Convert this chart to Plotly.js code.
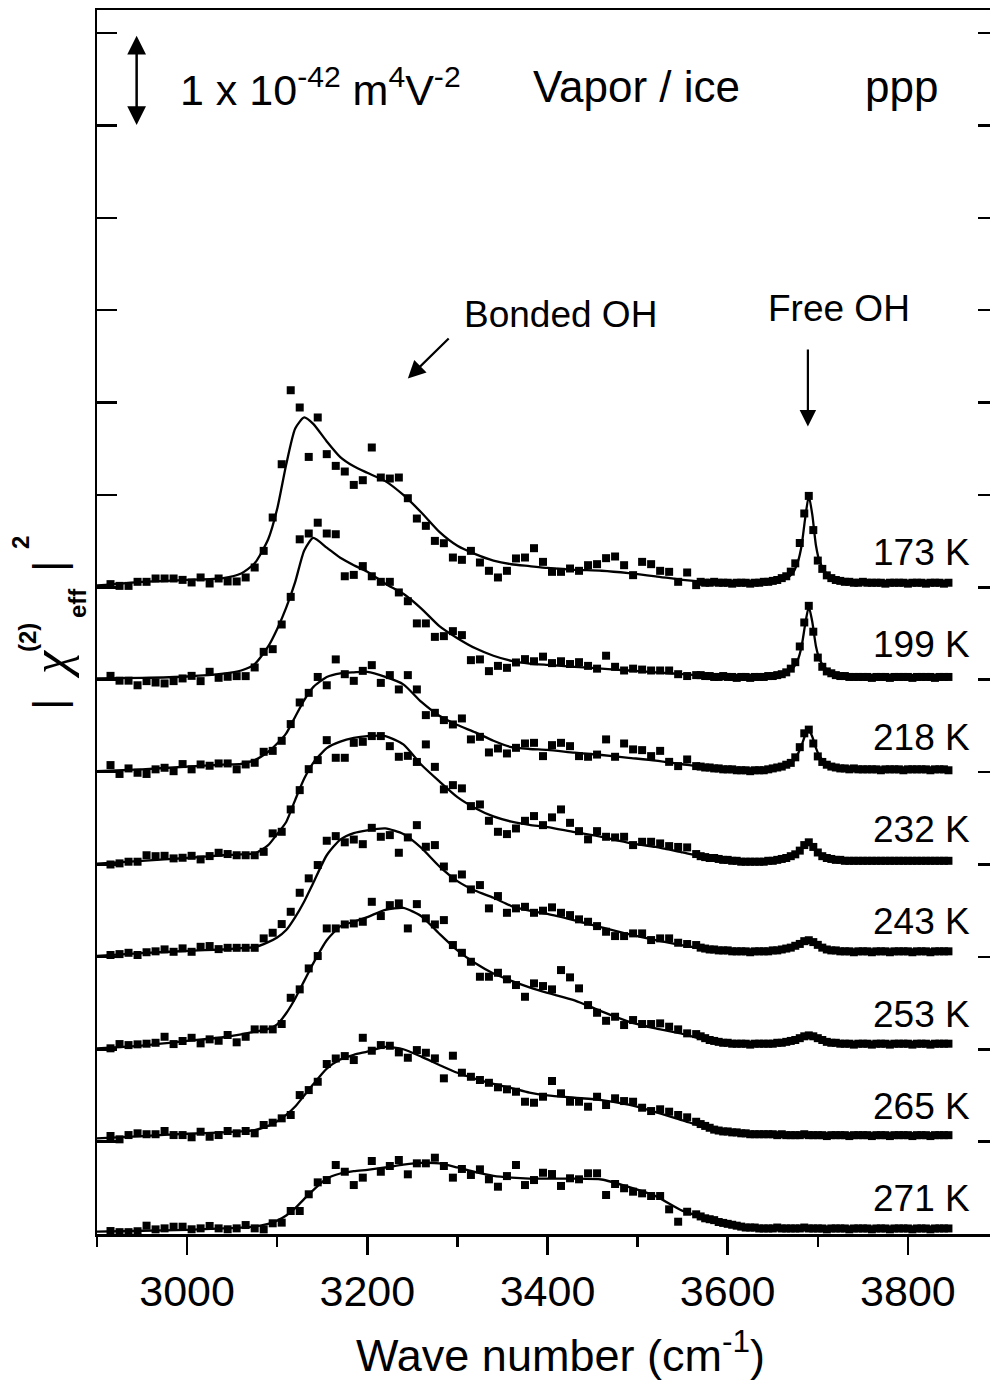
<!DOCTYPE html>
<html>
<head>
<meta charset="utf-8">
<script src="https://cdn.plot.ly/plotly-3.0.1.min.js"></script>
<style>
html,body{margin:0;padding:0;background:#fff;overflow:hidden;}
#chart{width:1000px;height:1381px;}
</style>
</head>
<body>
<div id="chart"></div>
<script>
// ---------------- DATA ----------------
const temps = ['173 K','199 K','218 K','232 K','243 K','253 K','265 K','271 K'];
const offsets = [7,6,5,4,3,2,1,0];

const wnSparse = [2915,2925,2935,2945,2955,2965,2975,2985,2995,3005,3015,3025,3035,3045,3055,3065,3075,3085,3095,3105,
3115,3125,3135,3145,3155,3165,3175,3185,3195,3205,3215,3225,3235,3245,3255,3265,3275,3285,3295,3305,
3315,3325,3335,3345,3355,3365,3375,3385,3395,3405,3415,3425,3435,3445,3455,3465,3475,3485,3495,3505,
3515,3525,3535,3545,3555,3565];

const wnDense = [3570,3575,3580,3585,3590,3595,3600,3605,3610,3615,3620,3625,3630,3635,3640,3645,3650,3655,3660,3665,
3670,3675,3680,3685,3690,3695,3700,3705,3710,3715,3720,3725,3730,3735,3740,3745,3750,3755,3760,3765,
3770,3775,3780,3785,3790,3795,3800,3805,3810,3815,3820,3825,3830,3835,3840,3845];

// measured |chi|^2 (units of 1e-42 m^4 V^-2), above each curve's own baseline
const s173 = [0.035,0.016,0.016,0.06,0.06,0.096,0.096,0.096,0.081,0.053,0.107,0.042,0.096,0.064,0.064,0.107,0.215,0.395,0.756,1.333,
2.134,1.947,1.412,1.839,1.442,1.315,1.254,1.109,1.160,1.514,1.189,1.178,1.189,0.965,0.745,0.666,0.503,0.478,0.323,0.298,
0.395,0.269,0.179,0.107,0.179,0.313,0.323,0.424,0.276,0.168,0.168,0.204,0.179,0.240,0.251,0.316,0.334,0.240,0.132,0.276,
0.251,0.179,0.168,0.060,0.161,0.024];
const d173 = [0.06,0.05,0.05,0.06,0.05,0.05,0.05,0.04,0.05,0.05,0.05,0.04,0.05,0.05,0.06,0.06,0.07,0.08,0.10,0.12,
0.17,0.26,0.48,0.80,0.99,0.62,0.29,0.20,0.13,0.10,0.08,0.07,0.06,0.06,0.05,0.05,0.06,0.05,0.05,0.05,
0.05,0.04,0.05,0.05,0.05,0.05,0.04,0.05,0.05,0.05,0.04,0.05,0.05,0.05,0.04,0.05];

const s199 = [0.042,-0.01,-0.01,-0.06,-0.015,-0.03,-0.04,-0.015,0.014,0.042,-0.015,0.086,0.021,0.032,0.039,0.039,0.133,0.302,0.331,0.598,
0.897,1.52,1.583,1.70,1.583,1.575,1.12,1.135,1.23,1.12,1.06,1.06,0.945,0.85,0.61,0.61,0.464,0.472,0.526,0.483,
0.212,0.22,0.093,0.15,0.129,0.187,0.223,0.20,0.25,0.18,0.20,0.17,0.19,0.15,0.12,0.26,0.14,0.10,0.12,0.11,
0.10,0.10,0.10,0.06,0.04,0.05];
const d199 = [0.05,0.04,0.04,0.03,0.03,0.04,0.03,0.03,0.02,0.03,0.03,0.02,0.03,0.03,0.03,0.04,0.04,0.05,0.06,0.08,
0.12,0.19,0.36,0.62,0.80,0.52,0.24,0.14,0.09,0.07,0.05,0.04,0.04,0.03,0.03,0.03,0.03,0.03,0.02,0.03,
0.03,0.03,0.02,0.03,0.03,0.03,0.03,0.02,0.03,0.03,0.03,0.03,0.02,0.03,0.03,0.03];

const s218 = [0.076,-0.02,0.04,-0.007,-0.02,0.03,0.047,0.01,0.087,0.03,0.083,0.069,0.094,0.094,0.03,0.083,0.101,0.22,0.23,0.339,
0.52,0.754,0.858,1.03,0.94,1.22,1.06,0.988,1.096,1.158,0.966,1.05,0.895,1.05,0.895,0.617,0.642,0.563,0.516,0.581,
0.354,0.382,0.213,0.256,0.202,0.263,0.31,0.317,0.173,0.292,0.317,0.281,0.173,0.166,0.19,0.354,0.166,0.31,0.246,0.238,
0.173,0.23,0.111,0.065,0.137,0.065];
const d218 = [0.06,0.05,0.05,0.04,0.04,0.03,0.03,0.03,0.02,0.02,0.02,0.01,0.02,0.02,0.02,0.03,0.04,0.05,0.06,0.08,
0.10,0.16,0.27,0.42,0.46,0.31,0.17,0.11,0.08,0.06,0.05,0.04,0.04,0.03,0.04,0.03,0.03,0.03,0.03,0.03,
0.02,0.03,0.03,0.03,0.03,0.02,0.03,0.03,0.03,0.03,0.03,0.02,0.03,0.03,0.03,0.02];

const s232 = [0.0,0.012,0.03,0.03,0.10,0.09,0.094,0.066,0.073,0.094,0.055,0.091,0.127,0.113,0.10,0.10,0.10,0.137,0.337,0.354,
0.596,0.805,1.032,1.13,1.346,1.155,1.155,1.317,1.328,1.39,1.39,1.281,1.166,1.176,1.11,1.30,1.057,0.813,0.859,0.824,
0.632,0.65,0.473,0.354,0.329,0.39,0.473,0.524,0.426,0.51,0.596,0.451,0.361,0.272,0.361,0.30,0.293,0.30,0.21,0.246,
0.246,0.228,0.199,0.19,0.185,0.113];
const d232 = [0.09,0.08,0.07,0.07,0.06,0.05,0.05,0.04,0.04,0.03,0.03,0.03,0.03,0.03,0.03,0.04,0.04,0.05,0.06,0.07,
0.09,0.11,0.15,0.21,0.24,0.19,0.13,0.09,0.07,0.06,0.05,0.05,0.04,0.04,0.04,0.04,0.04,0.04,0.04,0.04,
0.04,0.04,0.04,0.04,0.04,0.04,0.04,0.04,0.04,0.04,0.04,0.04,0.04,0.04,0.04,0.04];

const s243 = [0.02,0.03,0.044,0.02,0.05,0.06,0.081,0.055,0.092,0.055,0.109,0.117,0.084,0.098,0.098,0.098,0.098,0.20,0.261,0.355,
0.488,0.694,0.85,0.994,1.257,1.307,1.24,1.27,1.22,1.397,1.30,1.318,1.127,1.293,1.426,1.192,1.21,0.978,0.85,0.892,
0.73,0.777,0.525,0.658,0.477,0.525,0.542,0.477,0.50,0.536,0.477,0.452,0.406,0.38,0.333,0.272,0.225,0.225,0.254,0.254,
0.182,0.20,0.20,0.153,0.139,0.128];
const d243 = [0.10,0.09,0.08,0.08,0.07,0.07,0.07,0.06,0.06,0.06,0.06,0.05,0.06,0.06,0.06,0.06,0.07,0.07,0.08,0.09,
0.10,0.12,0.14,0.17,0.18,0.16,0.13,0.10,0.08,0.07,0.07,0.06,0.06,0.06,0.05,0.06,0.06,0.06,0.05,0.06,
0.06,0.06,0.05,0.06,0.06,0.06,0.06,0.05,0.06,0.06,0.06,0.05,0.06,0.06,0.06,0.06];

const s253 = [0.01,0.056,0.045,0.053,0.06,0.07,0.135,0.056,0.089,0.124,0.064,0.107,0.092,0.154,0.075,0.135,0.215,0.215,0.215,0.273,
0.557,0.648,0.875,1.009,1.308,1.308,1.351,1.362,1.38,1.596,1.442,1.56,1.579,1.308,1.571,1.417,1.351,1.398,1.128,1.044,
0.947,0.785,0.785,0.828,0.757,0.695,0.568,0.713,0.684,0.648,0.857,0.778,0.659,0.478,0.395,0.308,0.352,0.262,0.316,0.273,
0.273,0.28,0.244,0.215,0.172,0.164];
const d253 = [0.14,0.12,0.10,0.09,0.08,0.07,0.07,0.06,0.06,0.06,0.06,0.05,0.06,0.06,0.06,0.06,0.06,0.07,0.07,0.08,
0.09,0.10,0.12,0.14,0.15,0.14,0.12,0.10,0.08,0.07,0.07,0.06,0.06,0.06,0.05,0.06,0.06,0.06,0.05,0.06,
0.06,0.06,0.05,0.06,0.06,0.06,0.06,0.05,0.06,0.06,0.06,0.05,0.06,0.06,0.06,0.06];

const s265 = [0.061,0.025,0.071,0.09,0.08,0.08,0.115,0.071,0.071,0.047,0.107,0.053,0.071,0.115,0.09,0.115,0.09,0.18,0.205,0.252,
0.288,0.504,0.558,0.648,0.84,0.9,0.926,0.883,1.124,0.984,1.045,1.038,0.966,0.908,0.991,0.962,0.901,0.685,0.93,0.746,
0.702,0.667,0.637,0.588,0.566,0.54,0.432,0.421,0.486,0.656,0.523,0.432,0.432,0.378,0.486,0.396,0.469,0.439,0.432,0.367,
0.331,0.35,0.324,0.288,0.263,0.215];
const d265 = [0.19,0.17,0.15,0.13,0.12,0.11,0.11,0.10,0.10,0.09,0.09,0.08,0.08,0.08,0.08,0.08,0.08,0.07,0.08,0.07,
0.07,0.07,0.07,0.08,0.07,0.07,0.07,0.07,0.06,0.07,0.07,0.07,0.07,0.06,0.07,0.07,0.07,0.07,0.06,0.07,
0.07,0.07,0.06,0.07,0.07,0.07,0.07,0.06,0.07,0.07,0.07,0.06,0.07,0.07,0.07,0.07];

const s271 = [0.032,0.02,0.02,0.03,0.09,0.05,0.061,0.079,0.079,0.051,0.061,0.087,0.061,0.051,0.061,0.097,0.061,0.05,0.116,0.123,
0.249,0.249,0.43,0.559,0.584,0.747,0.674,0.53,0.61,0.79,0.674,0.736,0.801,0.646,0.765,0.765,0.826,0.736,0.61,0.704,
0.639,0.70,0.592,0.512,0.627,0.747,0.53,0.584,0.663,0.649,0.52,0.603,0.592,0.657,0.657,0.422,0.541,0.495,0.458,0.44,
0.411,0.411,0.267,0.133,0.241,0.213];
const d271 = [0.19,0.17,0.16,0.15,0.13,0.12,0.11,0.10,0.09,0.08,0.07,0.07,0.07,0.06,0.06,0.06,0.06,0.07,0.06,0.06,
0.06,0.06,0.06,0.07,0.06,0.06,0.06,0.06,0.05,0.06,0.06,0.06,0.06,0.05,0.06,0.06,0.06,0.06,0.05,0.06,
0.06,0.06,0.05,0.06,0.06,0.06,0.06,0.05,0.06,0.06,0.06,0.05,0.06,0.06,0.06,0.06];

// fitted curves (solid lines)
const fitX = [2900,2950,3000,3040,3060,3075,3090,3100,3110,3120,3130,3140,3155,3170,3185,3200,3220,3240,3260,3280,
3300,3320,3340,3360,3380,3400,3430,3460,3490,3520,3550,3580,3610,3640,3655,3665,3672,3678,3682,3686,
3690,3694,3698,3702,3708,3715,3725,3740,3770,3845];
const f173 = [0.02,0.06,0.08,0.10,0.15,0.26,0.52,0.85,1.33,1.72,1.84,1.77,1.58,1.41,1.31,1.24,1.15,1.00,0.81,0.60,
0.45,0.36,0.29,0.25,0.23,0.21,0.19,0.18,0.155,0.12,0.08,0.055,0.045,0.05,0.07,0.10,0.15,0.28,0.45,0.75,
0.99,0.78,0.45,0.28,0.17,0.11,0.08,0.065,0.055,0.05];
const f199 = [0.014,0.02,0.035,0.065,0.10,0.17,0.36,0.55,0.78,1.06,1.40,1.535,1.43,1.32,1.24,1.17,1.04,0.93,0.77,0.58,
0.45,0.34,0.26,0.205,0.175,0.16,0.14,0.12,0.10,0.08,0.06,0.04,0.03,0.03,0.05,0.08,0.12,0.22,0.36,0.60,
0.79,0.62,0.36,0.22,0.13,0.08,0.05,0.04,0.03,0.03];
const f218 = [0.01,0.03,0.06,0.08,0.09,0.13,0.22,0.31,0.42,0.60,0.78,0.92,1.03,1.07,1.08,1.085,1.03,0.95,0.76,0.61,
0.51,0.43,0.34,0.27,0.25,0.24,0.21,0.185,0.155,0.125,0.085,0.045,0.025,0.025,0.045,0.07,0.11,0.20,0.29,0.40,
0.46,0.38,0.26,0.17,0.11,0.07,0.05,0.04,0.035,0.035];
const f232 = [0.01,0.04,0.07,0.10,0.11,0.12,0.21,0.33,0.46,0.70,0.93,1.10,1.26,1.33,1.37,1.39,1.39,1.30,1.08,0.90,
0.73,0.61,0.52,0.465,0.43,0.405,0.35,0.30,0.235,0.19,0.13,0.07,0.035,0.035,0.06,0.08,0.10,0.14,0.18,0.22,
0.24,0.21,0.15,0.11,0.075,0.055,0.045,0.04,0.04,0.04];
const f243 = [0.01,0.04,0.065,0.08,0.095,0.105,0.16,0.21,0.29,0.43,0.60,0.80,1.10,1.27,1.34,1.37,1.39,1.33,1.18,0.98,
0.82,0.715,0.64,0.55,0.50,0.465,0.395,0.32,0.245,0.18,0.125,0.08,0.06,0.06,0.075,0.09,0.11,0.14,0.155,0.17,
0.18,0.165,0.14,0.115,0.09,0.075,0.065,0.06,0.055,0.055];
const f253 = [0.01,0.04,0.09,0.13,0.16,0.19,0.22,0.27,0.39,0.55,0.74,0.93,1.18,1.33,1.38,1.43,1.51,1.53,1.44,1.25,
1.07,0.93,0.82,0.74,0.67,0.61,0.53,0.41,0.30,0.225,0.165,0.09,0.06,0.057,0.06,0.07,0.085,0.105,0.12,0.14,
0.152,0.148,0.13,0.115,0.095,0.08,0.065,0.058,0.056,0.056];
const f265 = [0.036,0.06,0.085,0.10,0.11,0.125,0.17,0.22,0.29,0.38,0.50,0.62,0.79,0.89,0.94,0.975,1.025,1.00,0.92,0.83,
0.745,0.68,0.625,0.58,0.53,0.50,0.475,0.45,0.40,0.32,0.23,0.14,0.095,0.08,0.075,0.073,0.072,0.072,0.072,0.072,
0.072,0.072,0.072,0.071,0.071,0.071,0.071,0.071,0.071,0.071];
const f271 = [0.025,0.035,0.045,0.06,0.07,0.08,0.11,0.145,0.20,0.28,0.38,0.475,0.60,0.655,0.68,0.695,0.72,0.75,0.77,0.765,
0.72,0.67,0.63,0.61,0.60,0.60,0.60,0.59,0.51,0.41,0.25,0.16,0.085,0.065,0.062,0.062,0.062,0.062,0.062,0.062,
0.062,0.062,0.062,0.062,0.062,0.062,0.062,0.062,0.062,0.062];

const sparseSets = [s173,s199,s218,s232,s243,s253,s265,s271];
const denseSets  = [d173,d199,d218,d232,d243,d253,d265,d271];
const fitSets    = [f173,f199,f218,f232,f243,f253,f265,f271];

// ---------------- TRACES ----------------
const traces = [];
const wnAll = wnSparse.concat(wnDense);
for (let i = 0; i < temps.length; i++) {
  const off = offsets[i];
  const vals = sparseSets[i].concat(denseSets[i]);
  traces.push({
    x: fitX, y: fitSets[i].map(v => v + off),
    mode: 'lines', type: 'scatter', name: temps[i] + ' fit',
    line: {color: '#000', width: 2.3, shape: 'spline', smoothing: 0.6},
    hoverinfo: 'skip', showlegend: false
  });
  traces.push({
    x: wnAll, y: vals.map(v => v + off),
    mode: 'markers', type: 'scatter', name: temps[i],
    marker: {symbol: 'square', size: 8, color: '#000', line: {width: 0}},
    showlegend: false
  });
}

// ---------------- ANNOTATIONS ----------------
const FONT = 'Liberation Sans, Arial, Helvetica, sans-serif';
const ann = [];
for (let i = 0; i < temps.length; i++) {
  ann.push({x: 3871, y: offsets[i] + 0.38, xref: 'x', yref: 'y', text: temps[i],
    showarrow: false, xanchor: 'right', yanchor: 'middle', font: {family: FONT, size: 37, color: '#000'}});
}
// scale bar double arrow
ann.push({x: 2944, y: 12.97, ax: 2944, ay: 11.99, xref: 'x', yref: 'y', axref: 'x', ayref: 'y',
  text: '', showarrow: true, arrowhead: 2, arrowside: 'end+start', arrowsize: 1.5, arrowwidth: 2.5,
  arrowcolor: '#000', standoff: 0, startstandoff: 0});
ann.push({x: 2990, y: 12.42, xref: 'x', yref: 'y', text: '1 x 10<sup>-42</sup> m<sup>4</sup>V<sup>-2</sup>',
  showarrow: false, xanchor: 'left', yanchor: 'middle', font: {family: FONT, size: 43, color: '#000'}});
ann.push({x: 3499, y: 12.42, xref: 'x', yref: 'y', text: 'Vapor / ice',
  showarrow: false, xanchor: 'center', yanchor: 'middle', font: {family: FONT, size: 44, color: '#000'}});
ann.push({x: 3793, y: 12.42, xref: 'x', yref: 'y', text: 'ppp',
  showarrow: false, xanchor: 'center', yanchor: 'middle', font: {family: FONT, size: 44, color: '#000'}});
// Bonded OH
ann.push({x: 3414, y: 9.95, xref: 'x', yref: 'y', text: 'Bonded OH',
  showarrow: false, xanchor: 'center', yanchor: 'middle', font: {family: FONT, size: 37, color: '#000'}});
ann.push({x: 3245, y: 9.26, ax: 3292, ay: 9.71, xref: 'x', yref: 'y', axref: 'x', ayref: 'y',
  text: '', showarrow: true, arrowhead: 2, arrowsize: 1.6, arrowwidth: 2.2, arrowcolor: '#000', standoff: 0});
// Free OH
ann.push({x: 3723, y: 10.02, xref: 'x', yref: 'y', text: 'Free OH',
  showarrow: false, xanchor: 'center', yanchor: 'middle', font: {family: FONT, size: 37, color: '#000'}});
ann.push({x: 3689, y: 8.74, ax: 3689, ay: 9.59, xref: 'x', yref: 'y', axref: 'x', ayref: 'y',
  text: '', showarrow: true, arrowhead: 2, arrowsize: 1.5, arrowwidth: 2.2, arrowcolor: '#000', standoff: 0});
// x-axis title
ann.push({x: 0.514, y: -0.096, xref: 'paper', yref: 'paper', text: 'Wave number (cm<sup>-1</sup>)',
  showarrow: false, xanchor: 'center', yanchor: 'middle', font: {family: FONT, size: 45, color: '#000'}});
// y-axis title pieces (rotated)
const SERIF = 'Liberation Serif, DejaVu Serif, serif';
const yt = [
  {t: '|', px: 48, py: 705, s: 44, f: FONT},
  {t: '<i>χ</i>', px: 50, py: 665, s: 52, f: SERIF},
  {t: '<b>(2)</b>', px: 27, py: 638, s: 24, f: FONT},
  {t: '<b>eff</b>', px: 77, py: 603, s: 24, f: FONT},
  {t: '|', px: 48, py: 567, s: 44, f: FONT},
  {t: '<b>2</b>', px: 20, py: 543, s: 24, f: FONT}
];
yt.forEach(p => ann.push({x: (p.px - 97) / 901, y: (1234 - p.py) / 1224, xref: 'paper', yref: 'paper',
  text: p.t, textangle: -90, showarrow: false, xanchor: 'center', yanchor: 'middle',
  font: {family: p.f, size: p.s, color: '#000'}}));

// ---------------- LAYOUT ----------------
const layout = {
  width: 1000, height: 1381,
  margin: {l: 97, r: 2, t: 10, b: 147, pad: 0},
  paper_bgcolor: '#fff', plot_bgcolor: '#fff',
  showlegend: false,
  font: {family: FONT, color: '#000'},
  xaxis: {
    range: [2900, 3900], showgrid: false, zeroline: false,
    showline: true, linecolor: '#000', linewidth: 2.5, mirror: true,
    ticks: 'outside', ticklen: 18, tickwidth: 2.5, tickcolor: '#000',
    tick0: 3000, dtick: 200,
    tickfont: {family: FONT, size: 43, color: '#000'},
    minor: {tick0: 2900, dtick: 100, ticks: 'outside', ticklen: 10, tickwidth: 2.5, tickcolor: '#000', showgrid: false}
  },
  yaxis: {
    range: [0, 13.25], showgrid: false, zeroline: false,
    showline: true, linecolor: '#000', linewidth: 2.5, mirror: 'ticks',
    ticks: 'inside', ticklen: 20, tickwidth: 2.5, tickcolor: '#000',
    tick0: 0, dtick: 1, showticklabels: false
  },
  annotations: ann
};

Plotly.newPlot('chart', traces, layout, {staticPlot: true, displayModeBar: false});
</script>
</body>
</html>
